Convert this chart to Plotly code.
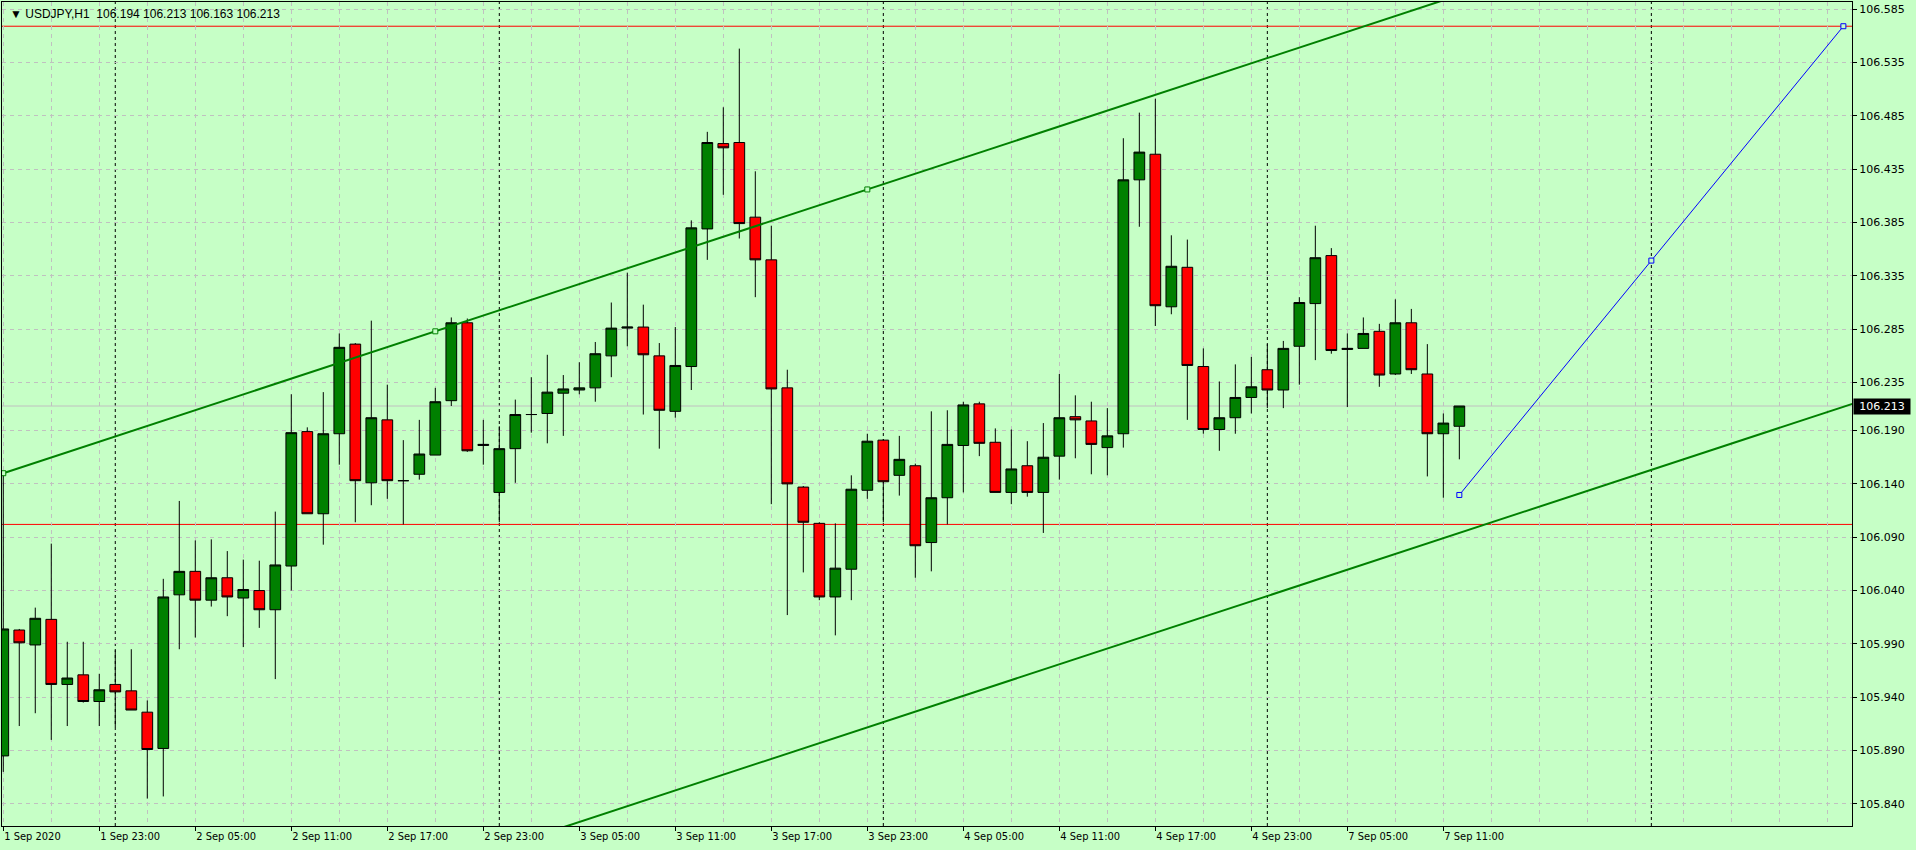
import pandas as pd
import plotly.graph_objects as go

# // hourly bars on the chart (USDJPY, H1) - weekend removed
times = list(pd.date_range("2020-09-01 17:00", "2020-09-04 23:00", freq="h")) + \
    list(pd.date_range("2020-09-07 00:00", "2020-09-07 12:00", freq="h"))

open_ = [105.885, 106.003, 105.989, 106.013, 105.952, 105.961, 105.936, 105.952, 105.946, 105.926,
         105.892, 106.036, 106.058, 106.031, 106.052, 106.033, 106.040, 106.022, 106.063, 106.189,
         106.112, 106.187, 106.271, 106.141, 106.200, 106.143, 106.149, 106.167, 106.218, 106.291,
         106.176, 106.132, 106.173, 106.205, 106.206, 106.225, 106.228, 106.230, 106.260, 106.286,
         106.287, 106.260, 106.208, 106.250, 106.379, 106.459, 106.460, 106.390, 106.350, 106.230,
         106.137, 106.103, 106.034, 106.060, 106.134, 106.181, 106.148, 106.157, 106.085, 106.127,
         106.176, 106.215, 106.179, 106.132, 106.157, 106.132, 106.166, 106.203, 106.199, 106.174,
         106.187, 106.425, 106.449, 106.306, 106.343, 106.250, 106.191, 106.202, 106.221, 106.247,
         106.228, 106.269, 106.309, 106.354, 106.266, 106.267, 106.283, 106.243, 106.291, 106.243,
         106.187, 106.194]
high = [106.150, 106.004, 106.024, 106.084, 105.992, 105.992, 105.962, 105.984, 105.985, 105.937,
        106.051, 106.124, 106.087, 106.088, 106.077, 106.069, 106.068, 106.114, 106.224, 106.193,
        106.226, 106.281, 106.272, 106.293, 106.233, 106.181, 106.200, 106.230, 106.296, 106.295,
        106.200, 106.194, 106.219, 106.240, 106.261, 106.242, 106.254, 106.273, 106.310, 106.338,
        106.308, 106.272, 106.287, 106.387, 106.470, 106.493, 106.548, 106.433, 106.382, 106.247,
        106.138, 106.104, 106.103, 106.148, 106.187, 106.182, 106.185, 106.159, 106.208, 106.209,
        106.217, 106.217, 106.192, 106.191, 106.180, 106.197, 106.243, 106.223, 106.217, 106.211,
        106.464, 106.488, 106.501, 106.373, 106.369, 106.267, 106.236, 106.252, 106.259, 106.271,
        106.274, 106.315, 106.382, 106.361, 106.281, 106.296, 106.290, 106.313, 106.304, 106.271,
        106.206, 106.213]
low = [105.870, 105.913, 105.925, 105.900, 105.913, 105.935, 105.913, 105.912, 105.928, 105.845,
       105.847, 105.985, 105.996, 106.025, 106.016, 105.987, 106.005, 105.957, 106.040, 106.112,
       106.083, 106.158, 106.104, 106.120, 106.126, 106.102, 106.144, 106.167, 106.213, 106.170,
       106.158, 106.104, 106.141, 106.188, 106.178, 106.185, 106.224, 106.217, 106.240, 106.269,
       106.205, 106.173, 106.202, 106.228, 106.350, 106.411, 106.370, 106.315, 106.121, 106.017,
       106.057, 106.031, 105.998, 106.031, 106.126, 106.104, 106.129, 106.052, 106.058, 106.102,
       106.132, 106.166, 106.132, 106.121, 106.128, 106.094, 106.144, 106.164, 106.149, 106.148,
       106.174, 106.381, 106.288, 106.299, 106.200, 106.187, 106.171, 106.187, 106.206, 106.211,
       106.211, 106.233, 106.256, 106.262, 106.212, 106.267, 106.231, 106.242, 106.243, 106.147,
       106.127, 106.163]
close = [106.004, 105.991, 106.014, 105.952, 105.958, 105.936, 105.947, 105.945, 105.928, 105.891,
         106.034, 106.058, 106.031, 106.052, 106.034, 106.041, 106.022, 106.064, 106.188, 106.112,
         106.187, 106.268, 106.143, 106.202, 106.143, 106.143, 106.168, 106.217, 106.291, 106.171,
         106.177, 106.173, 106.205, 106.205, 106.226, 106.229, 106.230, 106.262, 106.286, 106.287,
         106.261, 106.209, 106.251, 106.380, 106.460, 106.455, 106.384, 106.350, 106.229, 106.140,
         106.104, 106.034, 106.061, 106.135, 106.180, 106.142, 106.163, 106.082, 106.127, 106.177,
         106.214, 106.178, 106.132, 106.154, 106.132, 106.165, 106.202, 106.200, 106.177, 106.185,
         106.425, 106.451, 106.307, 106.344, 106.251, 106.191, 106.202, 106.221, 106.231, 106.228,
         106.267, 106.310, 106.352, 106.265, 106.267, 106.281, 106.242, 106.291, 106.247, 106.187,
         106.197, 106.213]

# // price scale labels as printed by the terminal
price_ticks = [106.585, 106.535, 106.485, 106.435, 106.385, 106.335, 106.285, 106.235,
               106.190, 106.140, 106.090, 106.040, 105.990, 105.940, 105.890, 105.840]

# // drawn objects: (bar index, price)
upper_trend = [(0, 106.150), (54, 106.416)]
lower_trend_at = (91, 106.094)           # parallel line through this point
target_line = [(91, 106.1296), (115, 106.569)]
hlines = [106.569, 106.102]
day_starts = [7, 31, 55, 79, 103]

BG = "#C6FFC6"
GRID = "#C0C0C0"
xs = list(range(len(times)))

# // time labels every 6 bars
tick_idx = list(range(0, len(times), 6))
tick_txt = [times[i].strftime("%-d %b %Y") if i == 0 else times[i].strftime("%-d %b %H:%M") for i in tick_idx]

fig = go.Figure()
fig.add_trace(go.Candlestick(
    x=xs, open=open_, high=high, low=low, close=close,
    increasing=dict(line=dict(color="black", width=1), fillcolor="#008000"),
    decreasing=dict(line=dict(color="black", width=1), fillcolor="#FF0000"),
    whiskerwidth=0, hoverinfo="skip", showlegend=False))

# // trend lines (rays to the right)
(xa, ya), (xb, yb) = upper_trend
slope = (yb - ya) / (xb - xa)
x_end = 130
fig.add_trace(go.Scatter(x=[xa, x_end], y=[ya, ya + slope * (x_end - xa)], mode="lines",
                         line=dict(color="#008000", width=2), hoverinfo="skip", showlegend=False))
xm = (xa + xb) / 2
fig.add_trace(go.Scatter(x=[xa, xm, xb], y=[ya, ya + slope * (xm - xa), yb], mode="markers",
                         marker=dict(symbol="square", size=5, color=BG, line=dict(color="#008000", width=1)),
                         hoverinfo="skip", showlegend=False))
xl, yl = lower_trend_at
fig.add_trace(go.Scatter(x=[-5, x_end], y=[yl + slope * (-5 - xl), yl + slope * (x_end - xl)], mode="lines",
                         line=dict(color="#008000", width=2), hoverinfo="skip", showlegend=False))

# // blue projection line
(x1, y1), (x2, y2) = target_line
fig.add_trace(go.Scatter(x=[x1, x2], y=[y1, y2], mode="lines",
                         line=dict(color="#0000FF", width=1), hoverinfo="skip", showlegend=False))
fig.add_trace(go.Scatter(x=[x1, (x1 + x2) / 2, x2], y=[y1, (y1 + y2) / 2, y2], mode="markers",
                         marker=dict(symbol="square", size=5, color=BG, line=dict(color="#0000FF", width=1)),
                         hoverinfo="skip", showlegend=False))

shapes = []
for d in day_starts:
    shapes.append(dict(type="line", xref="x", yref="paper", x0=d, x1=d, y0=0, y1=1, layer="between",
                       line=dict(color="black", width=1, dash="3px,3px")))
for h in hlines:
    shapes.append(dict(type="line", xref="paper", yref="y", x0=0, x1=1, y0=h, y1=h, layer="between",
                       line=dict(color="#FF0000", width=1)))
shapes.append(dict(type="line", xref="paper", yref="y", x0=0, x1=1, y0=close[-1], y1=close[-1],
                   layer="between", line=dict(color="#C0C0C0", width=1)))

fig.update_layout(
    width=1916, height=850,
    margin=dict(l=2, r=64, t=2, b=24),
    paper_bgcolor=BG, plot_bgcolor=BG,
    showlegend=False,
    boxgap=0.33, boxgroupgap=0,
    shapes=shapes,
    xaxis=dict(
        range=[-0.08, 115.54], rangeslider=dict(visible=False), automargin=False,
        tickmode="array", tickvals=tick_idx, ticktext=tick_txt,
        ticks="outside", ticklen=4, tickcolor="black", ticklabelposition="outside right",
        tickfont=dict(family="DejaVu Sans Condensed, Liberation Sans Narrow, sans-serif", size=11, color="black"),
        showline=True, linecolor="black", linewidth=1, mirror=True, zeroline=False,
        showgrid=True, gridcolor=GRID, griddash="4px,4px", gridwidth=1,
        minor=dict(dtick=3, tick0=0, showgrid=True, gridcolor=GRID, griddash="4px,4px", ticklen=0),
    ),
    yaxis=dict(
        side="right", range=[105.8193, 106.5917], automargin=False,
        tickmode="array", tickvals=price_ticks, ticktext=[f"{v:.3f}" for v in price_ticks],
        ticks="outside", ticklen=4, tickcolor="black",
        tickfont=dict(family="DejaVu Sans", size=11, color="black"),
        showline=True, linecolor="black", linewidth=1, mirror=True, zeroline=False,
        showgrid=True, gridcolor=GRID, griddash="4px,4px", gridwidth=1,
    ),
)

# // header with symbol and last bar OHLC
fig.add_annotation(xref="paper", yref="paper", x=0, y=1, xanchor="left", yanchor="top", xshift=6, yshift=-3,
                   text="\u25BC USDJPY,H1\u00a0\u00a0" + " ".join(f"{v:.3f}" for v in (open_[-1], high[-1], low[-1], close[-1])),
                   showarrow=False, font=dict(family="Liberation Sans", size=12, color="black"))

# // bid price label on the price scale
fig.add_annotation(xref="paper", yref="y", x=1, y=close[-1], xanchor="left", xshift=1,
                   text=f"{close[-1]:.3f}", showarrow=False, bgcolor="black", width=54, height=13,
                   font=dict(family="DejaVu Sans", size=11, color="white"))

fig.write_html("out.html", config={"displayModeBar": False},
               post_script="document.body.style.margin='0px';document.body.style.overflow='hidden';")
